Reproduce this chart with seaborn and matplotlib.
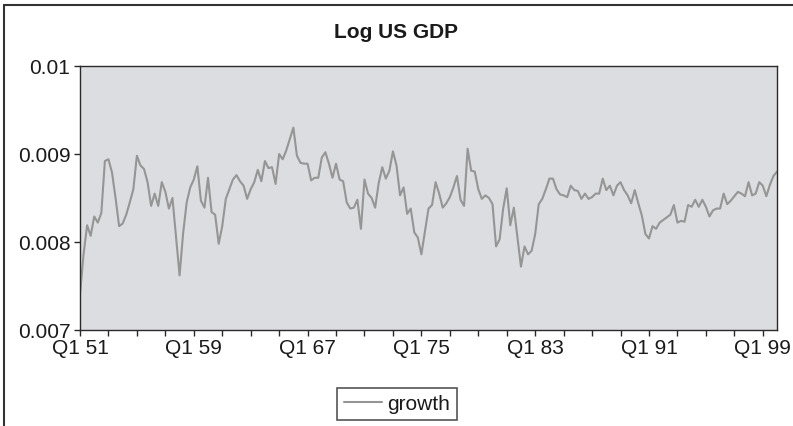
import matplotlib
matplotlib.use("Agg")
import matplotlib.pyplot as plt
import seaborn as sns
import pandas as pd
from matplotlib.lines import Line2D
from matplotlib.ticker import FixedLocator

# ---- data (quarterly, Q1 1951 .. Q1 2000) ----
growth = [
    0.00741, 0.00786, 0.00819, 0.00807, 0.00829, 0.00822, 0.00833, 0.00892, 0.00894, 0.00879,
    0.00850, 0.00818, 0.00821, 0.00831, 0.00845, 0.00860, 0.00898, 0.00887, 0.00883, 0.00868,
    0.00841, 0.00855, 0.00841, 0.00868, 0.00857, 0.00838, 0.00850, 0.00806, 0.00762, 0.00810,
    0.00845, 0.00862, 0.00871, 0.00886, 0.00847, 0.00839, 0.00873, 0.00834, 0.00831, 0.00798,
    0.00818, 0.00849, 0.00860, 0.00871, 0.00876, 0.00869, 0.00864, 0.00849, 0.00860, 0.00868,
    0.00882, 0.00869, 0.00892, 0.00884, 0.00885, 0.00866, 0.00900, 0.00894, 0.00904, 0.00917,
    0.00930, 0.00898, 0.00890, 0.00889, 0.00889, 0.00870, 0.00873, 0.00873, 0.00896, 0.00902,
    0.00889, 0.00873, 0.00889, 0.00871, 0.00869, 0.00845, 0.00838, 0.00839, 0.00848, 0.00815,
    0.00871, 0.00855, 0.00850, 0.00839, 0.00867, 0.00885, 0.00872, 0.00881, 0.00903, 0.00887,
    0.00853, 0.00862, 0.00832, 0.00838, 0.00811, 0.00805, 0.00786, 0.00812, 0.00838, 0.00842,
    0.00868, 0.00855, 0.00839, 0.00844, 0.00851, 0.00862, 0.00875, 0.00848, 0.00841, 0.00906,
    0.00881, 0.00880, 0.00860, 0.00849, 0.00853, 0.00850, 0.00843, 0.00795, 0.00803, 0.00838,
    0.00861, 0.00819, 0.00839, 0.00805, 0.00772, 0.00795, 0.00786, 0.00790, 0.00809, 0.00843,
    0.00849, 0.00860, 0.00872, 0.00872, 0.00860, 0.00854, 0.00853, 0.00851, 0.00864, 0.00859,
    0.00858, 0.00849, 0.00855, 0.00849, 0.00851, 0.00855, 0.00855, 0.00872, 0.00859, 0.00864,
    0.00853, 0.00864, 0.00868, 0.00859, 0.00853, 0.00844, 0.00859, 0.00844, 0.00830, 0.00809,
    0.00804, 0.00818, 0.00815, 0.00822, 0.00825, 0.00828, 0.00831, 0.00842, 0.00822, 0.00824,
    0.00823, 0.00842, 0.00840, 0.00848, 0.00840, 0.00848, 0.00840, 0.00829, 0.00836, 0.00838,
    0.00838, 0.00855, 0.00843, 0.00847, 0.00852, 0.00857, 0.00855, 0.00852, 0.00868, 0.00853,
    0.00855, 0.00868, 0.00864, 0.00852, 0.00865, 0.00875, 0.00880,
]
quarter_index = list(range(len(growth)))
tick_labels = ["Q1 51", "Q1 59", "Q1 67", "Q1 75", "Q1 83", "Q1 91", "Q1 99"]
tick_quarters = [0, 32, 64, 96, 128, 160, 192]
minor_quarters = list(range(0, 197, 8))
y_ticks = [0.007, 0.008, 0.009, 0.010]
y_labels = ["0.007", "0.008", "0.009", "0.01"]

df = pd.DataFrame({"quarter": quarter_index, "growth": growth})

sns.set_style("white")
plt.rcParams["font.family"] = ["Liberation Sans", "DejaVu Sans"]

W, H = 793, 427
fig = plt.figure(figsize=(W / 100, H / 100), dpi=100)
fig.patch.set_facecolor("white")
ax = fig.add_axes([80 / W, 1 - 331 / H, (777 - 80) / W, (331 - 67) / H])
ax.set_facecolor("#dcdde0")

line_color = "#959595"
sns.lineplot(data=df, x="quarter", y="growth", ax=ax, color=line_color,
             linewidth=1.5, legend=False)

ax.set_xlim(0, 196)
ax.set_ylim(0.007, 0.010)
ax.set_xticks(tick_quarters)
ax.set_xticklabels(tick_labels)
ax.xaxis.set_minor_locator(FixedLocator([q for q in minor_quarters if q not in tick_quarters]))
ax.set_yticks(y_ticks)
ax.set_yticklabels(y_labels)
ax.set_xlabel("")
ax.set_ylabel("")

for s in ax.spines.values():
    s.set_visible(True)
    s.set_color("#2a2a2a")
    s.set_linewidth(1.0)

ax.tick_params(axis="both", which="both", direction="out", length=4.5, width=1.0,
               color="#2a2a2a", labelsize=15, labelcolor="#1a1a1a")
ax.tick_params(axis="x", which="both", pad=1.5, bottom=True)
ax.tick_params(axis="y", which="both", pad=2.5, left=True)

fig.text(0.5, 1 - 32 / H, "Log US GDP", ha="center", va="center",
         fontsize=15, fontweight="bold", color="#1a1a1a")

# outer frame (left + top)
fig.add_artist(Line2D([4 / W, 4 / W], [0, 1 - 6 / H], transform=fig.transFigure,
                      color="#333333", linewidth=1.5))
fig.add_artist(Line2D([4 / W, 1], [1 - 6 / H, 1 - 6 / H], transform=fig.transFigure,
                      color="#333333", linewidth=1.5))

handle = Line2D([], [], color=line_color, linewidth=1.5)
leg = fig.legend([handle], ["growth"], loc="center", bbox_to_anchor=(397 / W, 1 - 405 / H),
                 fontsize=15, frameon=True, fancybox=False, handlelength=1.85,
                 handletextpad=0.25, borderpad=0.3, borderaxespad=0)
leg.get_frame().set_edgecolor("#2a2a2a")
leg.get_frame().set_linewidth(1.2)
for t in leg.get_texts():
    t.set_color("#1a1a1a")

fig.savefig("out.png", dpi=100)
